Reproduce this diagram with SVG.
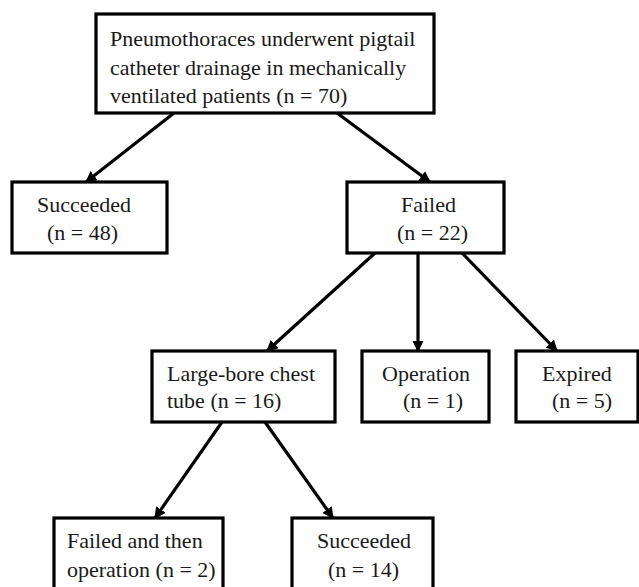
<svg xmlns="http://www.w3.org/2000/svg" width="639" height="587" viewBox="0 0 639 587">
<style>
.box{fill:#fff;stroke:#000;stroke-width:3.2}
.t{font-family:"Liberation Serif","Times New Roman",serif;font-size:22px;fill:#1a1a1a}
.c{stroke:#000;stroke-width:3.2;fill:none;marker-end:url(#ah)}
</style>
<defs>
<marker id="ah" viewBox="0 0 10 10" refX="9" refY="5" markerWidth="3.6" markerHeight="3.6" markerUnits="strokeWidth" orient="auto">
<path d="M0,0 L10,5 L0,10 z" fill="#000"/>
</marker>
</defs>
<rect width="639" height="587" fill="#fff"/>
<g id="connectors">
<line class="c" x1="174" y1="113" x2="86" y2="182"/>
<line class="c" x1="337" y1="113" x2="430" y2="182"/>
<line class="c" x1="375" y1="253" x2="267" y2="351"/>
<line class="c" x1="418" y1="253" x2="418" y2="351"/>
<line class="c" x1="462" y1="253" x2="557" y2="351"/>
<line class="c" x1="222" y1="422" x2="155" y2="518"/>
<line class="c" x1="265" y1="422" x2="333" y2="518"/>
</g>
<g id="n-root">
<rect class="box" x="96" y="14" width="338" height="99"/>
<text class="t" x="110" y="46">Pneumothoraces underwent pigtail</text>
<text class="t" x="110" y="75">catheter drainage in mechanically</text>
<text class="t" x="110" y="103">ventilated patients (n = 70)</text>
</g>
<g id="n-succeeded">
<rect class="box" x="12" y="182" width="155" height="71"/>
<text class="t" x="37" y="212">Succeeded</text>
<text class="t" x="47" y="240">(n = 48)</text>
</g>
<g id="n-failed">
<rect class="box" x="347" y="182" width="157" height="71"/>
<text class="t" x="401" y="212">Failed</text>
<text class="t" x="397" y="240">(n = 22)</text>
</g>
<g id="n-largebore">
<rect class="box" x="152" y="351" width="183" height="71"/>
<text class="t" x="167" y="381">Large-bore chest</text>
<text class="t" x="167" y="408">tube (n = 16)</text>
</g>
<g id="n-operation">
<rect class="box" x="362" y="351" width="127" height="71"/>
<text class="t" x="382" y="381">Operation</text>
<text class="t" x="403" y="408">(n = 1)</text>
</g>
<g id="n-expired">
<rect class="box" x="516" y="351" width="122" height="71"/>
<text class="t" x="542" y="381">Expired</text>
<text class="t" x="552" y="408">(n = 5)</text>
</g>
<g id="n-failed-op">
<rect class="box" x="54" y="518" width="169" height="90"/>
<text class="t" x="67" y="548">Failed and then</text>
<text class="t" x="67" y="577">operation (n = 2)</text>
</g>
<g id="n-succeeded2">
<rect class="box" x="292" y="518" width="141" height="90"/>
<text class="t" x="317" y="548">Succeeded</text>
<text class="t" x="328" y="577">(n = 14)</text>
</g>
</svg>
